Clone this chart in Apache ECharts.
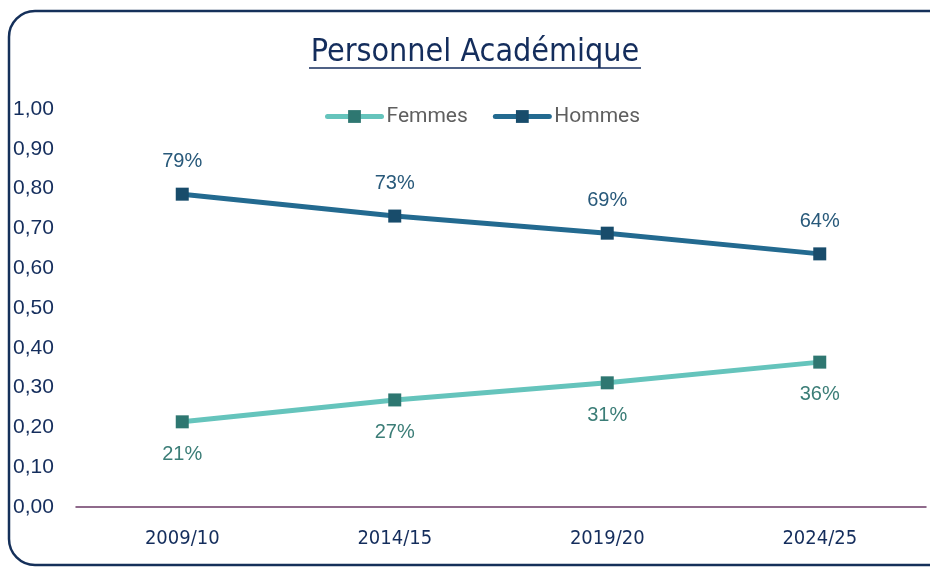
<!DOCTYPE html>
<html><head><meta charset="utf-8">
<script src="https://cdn.jsdelivr.net/npm/echarts@6/dist/echarts.min.js"></script>
<style>html,body{margin:0;padding:0;background:#fff}#c{width:930px;height:568px}</style>
</head><body><div id="c"></div>
<script>
const categories = ['2009/10', '2014/15', '2019/20', '2024/25'];
const femmes = [0.214, 0.269, 0.312, 0.364];
const hommes = [0.786, 0.731, 0.688, 0.636];
const yTicks = { min: 0, max: 1, interval: 0.1 };

const narrow = '"Liberation Sans Narrow", "DejaVu Sans Condensed", sans-serif';
const chart = echarts.init(document.getElementById('c'));
const pct = p => Math.round(p.value * 100) + '%';
chart.setOption({
  animation: false,
  graphic: [
    { type: 'rect', shape: { x: 9, y: 11, width: 960, height: 554, r: 26 },
      style: { fill: 'none', stroke: '#15305a', lineWidth: 2.5 }, silent: true },
    { type: 'text', x: 475, y: 37, style: { text: 'Personnel Académique', font: '32px ' + narrow, fill: '#142d5c', align: 'center', verticalAlign: 'top' } },
    { type: 'line', shape: { x1: 309, y1: 68, x2: 641, y2: 68 }, style: { stroke: '#142d5c', lineWidth: 1.5 } }
  ],
  legend: {
    top: 101, left: 320, itemWidth: 54, itemHeight: 16, itemGap: 25,
    textStyle: { fontFamily: 'Roboto', fontSize: 21, color: '#5f5f5f' },
    data: [
      { name: 'Femmes', itemStyle: { color: '#2e7771' }, lineStyle: { color: '#65c4bc', width: 5, cap: 'round' } },
      { name: 'Hommes', itemStyle: { color: '#184c6b' }, lineStyle: { color: '#236a90', width: 5, cap: 'round' } }
    ]
  },
  grid: { left: 76, right: 4, top: 109, bottom: 61, containLabel: false },
  xAxis: {
    type: 'category', data: categories, boundaryGap: true,
    axisLine: { lineStyle: { color: '#6b3a66', width: 1.5 } },
    axisTick: { show: false },
    axisLabel: { margin: 22, fontFamily: narrow, fontSize: 20, color: '#142d5c' }
  },
  yAxis: {
    type: 'value', min: yTicks.min, max: yTicks.max, interval: yTicks.interval,
    axisLine: { show: false }, axisTick: { show: false }, splitLine: { show: false },
    axisLabel: { align: 'left', margin: 63, fontFamily: 'Liberation Sans', fontSize: 21, color: '#142d5c',
      formatter: v => v.toFixed(2).replace('.', ',') }
  },
  series: [
    { name: 'Femmes', type: 'line', data: femmes, symbol: 'rect', symbolSize: 13,
      lineStyle: { color: '#65c4bc', width: 5 }, itemStyle: { color: '#2e7771' },
      label: { show: true, position: 'bottom', distance: 16, formatter: pct, fontFamily: 'Liberation Sans', fontSize: 20, color: '#3b7d77' } },
    { name: 'Hommes', type: 'line', data: hommes, symbol: 'rect', symbolSize: 13,
      lineStyle: { color: '#236a90', width: 5 }, itemStyle: { color: '#184c6b' },
      label: { show: true, position: 'top', distance: 16, formatter: pct, fontFamily: 'Liberation Sans', fontSize: 20, color: '#28597a' } }
  ]
});
</script></body></html>
